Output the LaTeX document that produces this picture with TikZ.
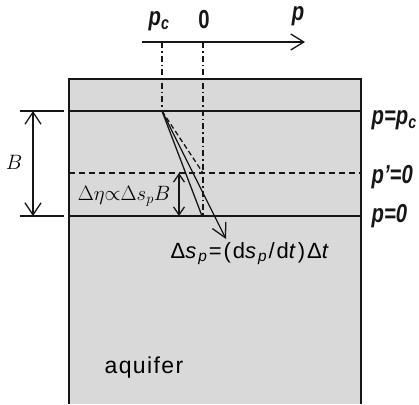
\documentclass[tikz,border=0pt]{standalone}
\usepackage{fontspec}
\setsansfont{Liberation Sans}
\setmainfont{Liberation Serif}
\usetikzlibrary{arrows.meta}
\definecolor{aquif}{HTML}{D9D9D9}
\definecolor{ink}{HTML}{161616}
\newcommand{\squeeze}[1]{\scalebox{0.78}[1]{#1}}

\begin{document}
\begin{tikzpicture}[x=1pt,y=-1pt,line width=1.3pt,draw=ink,
  plbl/.style={font=\sffamily\bfseries\itshape\fontsize{26}{28}\selectfont,text=ink},
  barb/.style={-{Straight Barb[length=13pt,width=16pt]}},
  smallbarb/.style={{Straight Barb[length=8pt,width=11pt]}-{Straight Barb[length=8pt,width=11pt]}},
  dimbarb/.style={{Straight Barb[length=12pt,width=16pt]}-{Straight Barb[length=12pt,width=16pt]}},
  dashdot/.style={dash pattern=on 6pt off 3pt on 1.5pt off 3pt,line width=1.1pt}]
  \useasboundingbox (0,0) rectangle (419,404);

  % aquifer block
  \fill[aquif] (69,79) rectangle (361,404);
  \draw[line width=1.8pt] (69,404) -- (69,79) -- (361,79) -- (361,404);

  % levels: p=p_c, p'=0, p=0
  \coordinate (topL) at (69,111);   \coordinate (topR) at (361,111);
  \coordinate (midL) at (69,173);   \coordinate (midR) at (361,173);
  \coordinate (botL) at (69,216);   \coordinate (botR) at (361,216);
  \draw (topL) -- (topR);
  \draw[dashed,dash pattern=on 6pt off 4pt] (midL) -- (midR);
  \draw (botL) -- (botR);

  % thickness B
  \coordinate (tickTa) at (20,111); \coordinate (tickTb) at (64,111);
  \coordinate (tickBa) at (20,216); \coordinate (tickBb) at (64,216);
  \draw (tickTa) -- (tickTb);
  \draw (tickBa) -- (tickBb);
  \coordinate (dimT) at (33,111); \coordinate (dimB) at (33,216);
  \draw[dimbarb] (dimT) -- (dimB);
  \node[font=\fontsize{22}{24}\selectfont] (bLabel) at (14,162) {$B$};

  % pressure axis
  \coordinate (axisA) at (142,42); \coordinate (axisB) at (305,42);
  \draw[barb] (axisA) -- (axisB);
  \node[plbl] (pcLabel) at (159,21) {\squeeze{p\textsubscript{c}}};
  \node[plbl,font=\sffamily\bfseries\fontsize{26}{28}\selectfont] (zeroLabel) at (204,20) {\squeeze{0}};
  \node[plbl] (pLabel) at (298,16) {\squeeze{p}};

  % projections
  \coordinate (pcAxis) at (162,42); \coordinate (apex) at (162,111);
  \coordinate (zeroAxis) at (203,42); \coordinate (zeroBot) at (203,216);
  \coordinate (zeroMid) at (203,173);
  \draw[dashdot] (pcAxis) -- (apex);
  \draw[dashdot] (zeroAxis) -- (zeroBot);

  % interface shift
  \coordinate (shiftEnd) at (202,216);
  \coordinate (arrowEnd) at (226,239);
  \draw (apex) -- (shiftEnd);
  \draw[-{Straight Barb[length=14pt,width=15pt]}] (apex) -- (arrowEnd);
  \draw[dashed,dash pattern=on 5pt off 3pt] (apex) -- (zeroMid);

  % drawdown
  \coordinate (etaT) at (179,173); \coordinate (etaB) at (179,216);
  \draw[smallbarb] (etaT) -- (etaB);
  \node[font=\fontsize{22.5}{24}\selectfont,anchor=east,inner sep=0pt] (etaLabel) at (171,196) {$\Delta\eta{\propto}\Delta s_p B$};

  \node[font=\sffamily\fontsize{22}{24}\selectfont\addfontfeature{LetterSpace=9},anchor=west,inner sep=0pt] (dsLabel) at (170,254)
    {Δ\textit{s}\textsubscript{\textit{p}}=(d\textit{s}\textsubscript{\textit{p}}/d\textit{t})Δ\textit{t}};

  % level labels
  \node[plbl,anchor=west,inner sep=0pt] (lvlTop) at (371,120) {\squeeze{p=p\textsubscript{c}}};
  \node[plbl,anchor=west,inner sep=0pt] (lvlMid) at (371,177) {\squeeze{p’=0}};
  \node[plbl,anchor=west,inner sep=0pt] (lvlBot) at (371,216) {\squeeze{p=0}};

  \node[font=\sffamily\fontsize{23}{25}\selectfont\addfontfeature{LetterSpace=6},anchor=west,inner sep=0pt] (aqLabel) at (104,368) {aquifer};
\end{tikzpicture}
\end{document}
